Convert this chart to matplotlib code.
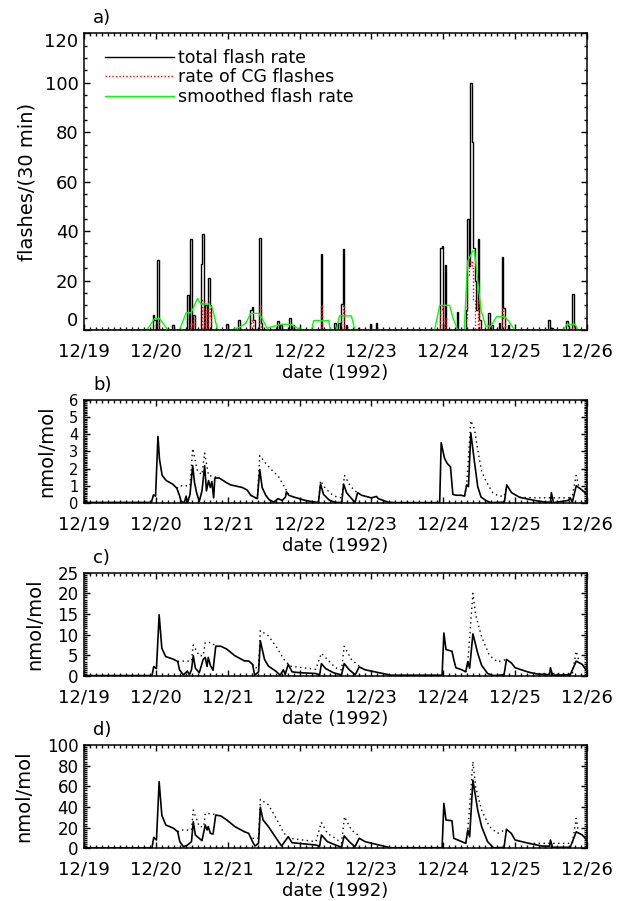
import numpy as np
import matplotlib.pyplot as plt
from matplotlib.ticker import MultipleLocator

plt.rcParams['font.family'] = 'DejaVu Sans'
plt.rcParams['font.size'] = 13

day_labels = ['12/19', '12/20', '12/21', '12/22', '12/23', '12/24', '12/25', '12/26']

# panel a: 30-min bins (start hour after 12/19 00:00, flashes)
flash_total = [(23.0, 6), (23.5, 4), (24.5, 28.5), (29.5, 2), (34.5, 14), (35.5, 37),
               (36.5, 6), (39.0, 26.5), (39.5, 39), (40.5, 10), (41.5, 21), (42.0, 10),
               (47.5, 2.5), (50.0, 1), (51.5, 4), (55.5, 8), (56.0, 9.4), (56.5, 4),
               (58.5, 37.3), (59.0, 3), (64.5, 3.5), (65.5, 2), (68.5, 5), (69.5, 2),
               (71.5, 1), (79.0, 30.6), (83.5, 2.7), (85.0, 3), (86.0, 10.4), (86.5, 32.6),
               (87.5, 2), (91.5, 1), (95.5, 2.3), (97.5, 3), (119.0, 33.3), (119.5, 34),
               (120.5, 26.3), (124.5, 7.4), (127.5, 8), (128.0, 45), (128.5, 26), (129.0, 100),
               (129.5, 76), (130.0, 33), (130.5, 20), (131.0, 8), (131.5, 37), (132.0, 4),
               (135.0, 7), (136.0, 2), (138.5, 3), (139.5, 29.4), (140.0, 8.8), (141.5, 2),
               (155.0, 4), (156.0, 1), (161.0, 3.5), (161.5, 1.5), (163.0, 14.6), (163.5, 1.5)]
flash_cg = [(24.5, 5), (35.5, 3), (36.5, 6), (39.5, 12), (40.5, 8), (41.5, 9), (42.0, 5),
            (55.5, 3), (56.0, 4), (58.5, 10), (79.0, 10), (86.0, 6), (86.5, 10), (119.0, 8),
            (119.5, 10), (120.5, 5), (127.5, 5), (128.0, 22), (128.5, 26), (129.0, 28),
            (129.5, 25), (130.0, 12), (131.5, 12), (135.0, 3), (139.5, 9), (140.0, 5), (163.0, 2)]
flash_smooth = [(0, 0), (20.8, 0), (21.9, 1.5), (23.6, 4.7), (25.2, 4.7), (26.2, 3), (28.0, 0),
                (31.9, 0), (34.1, 7), (35.8, 7), (37.9, 12.8), (39.1, 10.5), (41.8, 10.5),
                (42.9, 8.8), (44.6, 0), (49.1, 0), (51.8, 1), (54.0, 2.7), (55.7, 6.7),
                (58.4, 6.7), (59.5, 4.7), (61.2, 0.5), (61.7, 1), (66.1, 2.3), (69.0, 2.3),
                (71.7, 0.5), (73.7, 0), (76.0, 0), (76.7, 3.8), (81.7, 3.8), (82.3, 0),
                (84.3, 0), (85.3, 5.7), (89.3, 5.7), (90.5, 0), (117.1, 0), (118.8, 10),
                (122.1, 10), (123.2, 5), (124.8, 0), (127.0, 0), (128.1, 27.6), (129.8, 32),
                (130.4, 32), (131.5, 20), (132.6, 8), (134.2, 1.5), (135.8, 1.5), (137.8, 5.4),
                (140.5, 5.4), (142.2, 3), (143.8, 0), (160.0, 0), (161.3, 2.3), (164.0, 2.3),
                (165.0, 0), (168.0, 0)]

# panels b-d: (hour, nmol/mol); None splits the dotted curve into pieces
b_solid = [(0, 0.03), (22.5, 0.03), (23.2, 0.47), (23.9, 0.4), (24.7, 3.87), (25.2, 2.56),
           (26.1, 1.6), (27.5, 1.3), (29.6, 1.1), (31.0, 0.86), (31.9, 0.43), (32.4, 0.1),
           (33.5, 0.02), (34.1, 0.4), (34.6, 0.02), (35.4, 0.5), (36.3, 2.17), (36.9, 1.2),
           (37.6, 0.6), (38.5, 0.1), (39.4, 0.7), (40.3, 2.17), (40.9, 0.7), (41.6, 1.3),
           (42.2, 0.9), (42.7, 1.25), (43.3, 0.3), (43.7, 1.45), (45.2, 1.45), (47.4, 1.2),
           (49.0, 1.05), (52.9, 0.9), (54.5, 0.75), (55.7, 0.45), (56.8, 0.35), (57.9, 0.25),
           (58.7, 1.95), (59.5, 0.9), (60.7, 0.45), (61.8, 0.2), (63.4, 0.05), (64.8, 0.25),
           (66.2, 0.15), (67.3, 0.35), (67.6, 0.65), (68.4, 0.45), (70.0, 0.35), (73.9, 0.15),
           (76.1, 0.08), (78.3, 0.03), (79.0, 1.1), (80.0, 0.5), (81.7, 0.2), (82.8, 0.1),
           (84.4, 0.03), (86.1, 0.03), (86.7, 1.1), (87.7, 0.6), (88.9, 0.35), (90.5, 0.03),
           (91.4, 0.6), (92.7, 0.45), (96.0, 0.3), (97.7, 0.38), (98.3, 0.25), (101.6, 0.05),
           (103.8, 0.02), (118.8, 0.02), (119.3, 3.5), (120.4, 2.6), (121.3, 2.3), (122.4, 2.1),
           (123.2, 0.5), (124.3, 0.45), (125.9, 0.45), (127.1, 0.4), (127.8, 1.05), (128.4, 0.95),
           (129.2, 4.07), (130.4, 2.4), (131.5, 0.95), (132.6, 0.35), (134.2, 0.15), (135.9, 0.02),
           (140.4, 0.05), (141.2, 1.05), (142.8, 0.6), (145.5, 0.33), (151.0, 0.13), (154.4, 0.05),
           (155.8, 0.05), (156.1, 0.6), (156.8, 0.02), (161.8, 0.15), (162.4, 0.3), (163.1, 0.05),
           (164.4, 1.0), (166.0, 0.8), (168.0, 0.5)]
b_dotted = [(31.0, 0.86), (31.9, 1.0), (35.4, 1.0), (36.3, 3.17), (37.9, 1.85), (39.4, 1.65),
            (40.3, 2.9), (41.6, 1.6), (44.1, 1.5), (45.2, 1.45), None,
            (55.7, 0.45), (56.8, 0.3), (57.9, 0.3), (58.7, 2.75), (60.7, 2.3), (62.8, 1.9),
            (65.1, 1.5), (66.7, 1.0), (68.4, 0.5), None,
            (78.3, 0.03), (79.0, 1.3), (80.6, 0.85), (82.8, 0.5), (84.4, 0.35), (86.1, 0.3),
            (87.0, 1.6), (88.9, 1.0), (90.5, 0.7), (91.4, 0.6), None,
            (127.1, 0.4), (127.8, 1.05), (129.2, 4.78), (130.4, 4.3), (131.5, 3.1), (132.8, 1.85),
            (134.2, 1.3), (136.5, 0.6), (138.5, 0.4), (140.4, 0.4), (141.2, 1.05), None,
            (145.5, 0.33), (151.0, 0.3), (155.8, 0.3), (161.8, 0.3), (163.1, 0.45),
            (164.4, 1.6), (165.2, 1.0)]

c_solid = [(0, 0.1), (22.7, 0.1), (23.3, 2.3), (24.2, 1.8), (25.1, 14.8), (26.0, 6.7),
           (27.3, 4.7), (29.9, 4.05), (31.3, 3.5), (31.9, 1.5), (33.2, 0.25), (34.5, 1.2),
           (35.2, 0.3), (35.9, 1.5), (36.5, 4.9), (37.2, 1.9), (38.5, 0.8), (39.8, 4.0),
           (40.5, 4.5), (41.1, 2.3), (41.5, 4.5), (42.2, 2.6), (43.1, 1.4), (44.0, 7.2),
           (45.7, 7.2), (47.7, 6.5), (50.4, 4.9), (53.6, 3.65), (55.0, 3.65), (56.3, 2.8),
           (57.0, 0.2), (58.3, 1.0), (58.9, 8.5), (60.3, 4.0), (61.6, 2.4), (64.2, 1.1),
           (65.5, 0.2), (66.6, 1.5), (67.2, 0.4), (68.2, 2.8), (69.5, 1.0), (72.1, 0.8),
           (77.4, 0.6), (78.7, 0.2), (79.3, 3.0), (80.7, 1.8), (83.3, 0.8), (86.0, 0.25),
           (86.9, 3.0), (88.6, 1.5), (90.6, 0.3), (91.9, 2.2), (93.9, 1.5), (98.5, 0.8),
           (102.5, 0.2), (119.6, 0.2), (120.2, 10.4), (120.9, 6.4), (122.9, 6.0), (123.5, 4.0),
           (124.2, 2.0), (126.2, 1.5), (127.5, 1.0), (128.2, 3.5), (128.8, 1.9), (129.9, 10.2),
           (131.5, 5.5), (132.8, 2.6), (134.8, 0.6), (136.8, 0.1), (140.3, 0.3), (141.1, 4.0),
           (142.7, 3.2), (144.0, 2.0), (148.6, 0.9), (151.2, 0.5), (155.5, 0.3), (155.8, 2.0),
           (156.5, 0.2), (162.4, 0.3), (164.4, 3.6), (166.4, 2.8), (168.0, 1.2)]
c_dotted = [(31.3, 3.5), (31.9, 3.6), (35.9, 3.6), (36.5, 7.5), (38.5, 4.9), (39.8, 4.9),
            (40.5, 8.1), (42.5, 8.1), (44.0, 7.2), None,
            (56.3, 2.8), (57.0, 2.0), (58.3, 2.0), (58.9, 11.0), (61.6, 9.7), (64.2, 7.1),
            (66.8, 4.0), (68.8, 2.4), (77.4, 1.6), (79.3, 5.5), (81.3, 4.0), (84.0, 2.0),
            (86.0, 1.5), (86.9, 7.2), (89.3, 4.0), (91.9, 2.4), None,
            (127.5, 1.0), (128.2, 3.5), (129.9, 20.0), (130.8, 14.8), (132.8, 9.5), (135.4, 5.0),
            (138.1, 3.4), (141.1, 4.0), None,
            (148.6, 0.9), (151.2, 0.6), (163.1, 0.6), (164.4, 6.0), (165.5, 3.2)]

d_solid = [(0, 0.3), (22.7, 0.3), (23.3, 10.6), (24.2, 8.0), (25.1, 64.5), (26.0, 32.0),
           (27.3, 22.6), (29.9, 19.4), (31.3, 16.0), (32.0, 6.4), (33.2, 1.6), (34.5, 3.0),
           (35.9, 6.5), (36.5, 25.8), (37.2, 12.9), (39.4, 7.4), (40.5, 22.6), (41.1, 17.7),
           (41.5, 21.0), (42.2, 14.5), (43.1, 13.8), (44.0, 32.2), (45.7, 31.3), (47.7, 27.4),
           (50.4, 21.0), (53.6, 16.0), (55.0, 14.5), (56.3, 6.4), (57.1, 2.2), (58.3, 4.8),
           (58.9, 39.7), (59.8, 27.4), (61.6, 21.0), (64.2, 9.7), (66.0, 2.2), (68.2, 11.2),
           (69.5, 5.4), (77.4, 3.2), (78.7, 2.0), (79.3, 12.9), (81.3, 6.4), (84.0, 3.2),
           (86.0, 1.0), (86.9, 12.0), (88.6, 6.4), (90.5, 1.5), (91.9, 9.7), (93.9, 6.4),
           (98.5, 3.2), (102.5, 0.5), (119.6, 0.5), (120.2, 43.5), (120.9, 27.4), (122.9, 26.7),
           (123.5, 9.7), (126.2, 6.4), (127.5, 4.8), (128.2, 17.7), (128.8, 11.2), (129.9, 66.0),
           (131.5, 37.0), (132.8, 21.0), (134.8, 6.4), (136.8, 0.5), (140.3, 0.8), (141.1, 18.4),
           (142.7, 14.5), (144.0, 8.0), (148.6, 4.8), (152.9, 2.2), (155.5, 2.0), (155.8, 8.0),
           (156.5, 1.0), (162.4, 1.0), (164.4, 16.0), (166.4, 12.9), (168.0, 8.0)]
d_dotted = [(31.3, 16.0), (32.0, 17.7), (35.9, 17.7), (36.5, 37.0), (38.5, 21.0), (40.0, 21.0),
            (40.5, 33.9), (43.1, 33.2), (44.0, 32.2), None,
            (56.3, 9.7), (58.3, 9.7), (58.9, 47.4), (61.6, 42.0), (64.2, 29.0), (66.8, 14.5),
            (68.8, 9.7), (77.4, 6.4), (79.3, 25.0), (81.3, 14.5), (84.0, 9.7), (86.0, 5.0),
            (87.0, 30.6), (89.3, 17.7), (91.9, 12.0), None,
            (127.5, 4.8), (128.2, 17.7), (129.9, 84.0), (130.8, 59.6), (132.8, 37.0),
            (135.4, 21.0), (138.1, 14.5), (141.1, 18.4), None,
            (148.6, 4.8), (163.1, 4.8), (164.4, 29.0), (165.2, 14.0)]


def xy(pairs):
    t = np.array([np.nan if p is None else p[0] for p in pairs]) / 24.0
    v = np.array([np.nan if p is None else p[1] for p in pairs])
    return t, v


def binned(pairs):
    vals = np.zeros(7 * 48)
    for h, v in pairs:
        vals[int(round(h * 2))] = v
    return vals


def style(ax, yticks, yminor, h_px, label, ylabel, ylab_x, ysize, shift_ends):
    ax.set_xlim(0, 7)
    ax.set_ylim(yticks[0], yticks[-1])
    ax.set_xticks(range(8))
    ax.set_xticklabels(day_labels)
    ax.xaxis.set_minor_locator(MultipleLocator(1 / 12))
    ax.set_yticks(yticks)
    ax.yaxis.set_minor_locator(MultipleLocator(yminor))
    ax.tick_params(which='both', direction='in', top=True, right=True, width=1)
    ax.tick_params(which='major', length=4.5)
    ax.tick_params(which='minor', length=2.3)
    ax.tick_params(axis='x', which='major', pad=9)
    ax.tick_params(axis='y', which='major', pad=4, labelsize=ysize)
    for s in ax.spines.values():
        s.set_linewidth(1.1)
    if shift_ends:
        ticks = ax.yaxis.get_major_ticks()
        ticks[0].label1.set_va('bottom')
        ticks[-1].label1.set_va('top')
    ax.set_xlabel('date (1992)')
    ax.xaxis.set_label_coords(0.5, -34 / h_px)
    ax.set_ylabel(ylabel, fontsize=14)
    ax.yaxis.set_label_coords(ylab_x, 0.5)
    ax.text(0.018, 1 + 6 / h_px, label, transform=ax.transAxes, ha='left', va='bottom')


fig = plt.figure(figsize=(6.19, 9.01), dpi=100)
left, width = 84 / 619, 503 / 619

# a) flash rates
ax = fig.add_axes([left, 571 / 901, width, 296.7 / 901])
edges = np.arange(7 * 48 + 1) / 48
ax.stairs(binned(flash_total), edges, color='black', lw=1.0, label='total flash rate')
ax.stairs(binned(flash_cg), edges, color='red', lw=1.0, linestyle=(0, (1, 1.5)),
          label='rate of CG flashes')
t, v = xy(flash_smooth)
ax.plot(t, v, color='#00ff00', lw=1.0, label='smoothed flash rate')
style(ax, [0, 20, 40, 60, 80, 100, 120], 5, 296.7, 'a)', 'flashes/(30 min)', -0.095, 13, True)
leg = ax.legend(loc='upper left', bbox_to_anchor=(0.041, 0.947), frameon=False,
                fontsize=12.5, handlelength=4.0, handletextpad=0.25, labelspacing=0.08,
                borderpad=0, borderaxespad=0)

# b), c), d) mixing ratios
panels = [
    (398 / 901, b_solid, b_dotted, [0, 1, 2, 3, 4, 5, 6], 0.1, 'b)', -0.055, 10.5),
    (225 / 901, c_solid, c_dotted, [0, 5, 10, 15, 20, 25], 0.5, 'c)', -0.08, 12),
    (52.7 / 901, d_solid, d_dotted, [0, 20, 40, 60, 80, 100], 2, 'd)', -0.1, 12),
]
for bottom, solid, dotted, yt, ymin, lab, ylx, ysz in panels:
    ax = fig.add_axes([left, bottom, width, 103.3 / 901])
    t, v = xy(solid)
    ax.plot(t, v, color='black', lw=1.2)
    t, v = xy(dotted)
    ax.plot(t, v, color='black', lw=1.0, linestyle=(0, (1, 2.5)))
    style(ax, yt, ymin, 103.3, lab, 'nmol/mol', ylx, ysz, False)

fig.savefig('out.png', dpi=100)
